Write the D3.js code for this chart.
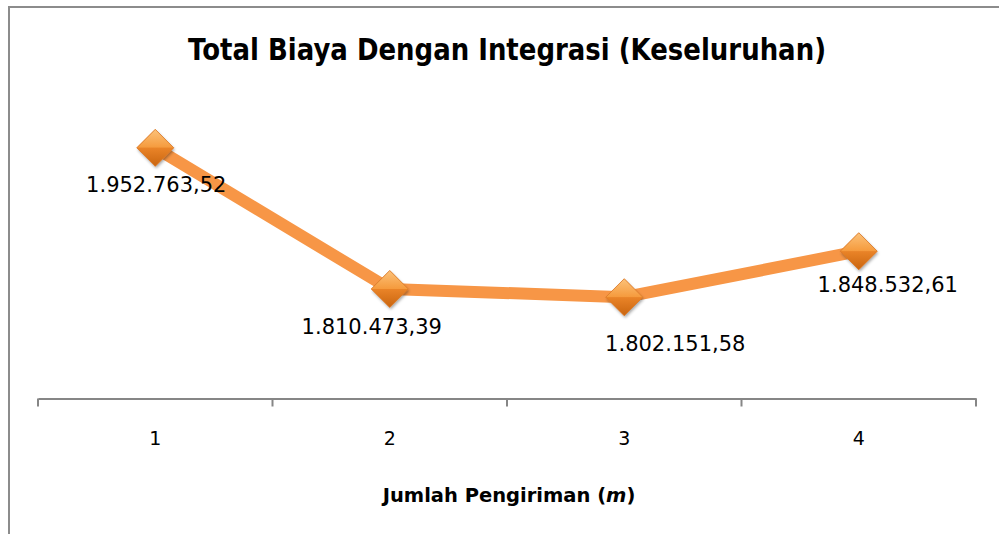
<!DOCTYPE html>
<html><head><meta charset="utf-8">
<script src="https://cdn.jsdelivr.net/npm/d3@7"></script>
<style>html,body{margin:0;padding:0;background:#fff;}svg{display:block;}</style>
</head><body>
<svg id="c" width="999" height="534"></svg>
<script>
const categories = ["1", "2", "3", "4"];
const values = [1952763.52, 1810473.39, 1802151.58, 1848532.61];
const valueLabels = ["1.952.763,52", "1.810.473,39", "1.802.151,58", "1.848.532,61"];
const yDomain = [1700000, 2000000];
const titleText = "Total Biaya Dengan Integrasi (Keseluruhan)";

// label placement (relative to point), kept separate from data
const labelDx = [1, -18, 51, 29];
const labelDy = [44, 45, 54, 41];

const svg = d3.select("#c");
const W = 999, H = 534;
const plot = {left: 38, right: 976, top: 101, bottom: 398.5};

// frame
svg.append("path")
  .attr("d", `M9,${H} L9,7 L${W},7`)
  .attr("fill", "none").attr("stroke", "#8c8c8c").attr("stroke-width", 2);

const x = d3.scaleBand().domain(categories).range([plot.left, plot.right]).padding(0);
const y = d3.scaleLinear().domain(yDomain).range([plot.bottom, plot.top]);

const font = "'DejaVu Sans', sans-serif";

// title
svg.append("text").attr("x", 507).attr("y", 60).attr("text-anchor", "middle")
  .attr("font-family", font).attr("font-weight", "bold").attr("font-size", 31)
  .attr("textLength", 638).attr("lengthAdjust", "spacingAndGlyphs")
  .attr("fill", "#000").text(titleText);

// x axis
const axis = d3.axisBottom(x).tickSize(0).tickPadding(33);
const gx = svg.append("g").attr("transform", `translate(0,${plot.bottom})`).call(axis);
gx.select(".domain").attr("stroke", "#868686").attr("stroke-width", 2);
gx.selectAll(".tick text").attr("font-family", font).attr("font-size", 19).attr("fill", "#000");
const bounds = categories.map(c => x(c)).concat([x(categories[categories.length - 1]) + x.bandwidth()]);
gx.selectAll("line.bt").data(bounds).enter().append("line").attr("class", "bt")
  .attr("x1", d => d).attr("x2", d => d).attr("y1", 0).attr("y2", 8)
  .attr("stroke", "#868686").attr("stroke-width", 2);

// x axis title
const xt = svg.append("text").attr("x", 509).attr("y", 502).attr("text-anchor", "middle")
  .attr("font-family", font).attr("font-weight", "bold").attr("font-size", 19.5).attr("fill", "#000");
xt.append("tspan").text("Jumlah Pengiriman (");
xt.append("tspan").attr("font-style", "italic").text("m");
xt.append("tspan").text(")");

// line
const cx = i => x(categories[i]) + x.bandwidth() / 2;
const line = d3.line().x((d, i) => cx(i)).y(d => y(d));
svg.append("path").datum(values).attr("d", line)
  .attr("fill", "none").attr("stroke", "#F79646").attr("stroke-width", 12)
  .attr("stroke-linejoin", "round");

// marker gradients
const defs = svg.append("defs");
const gTop = defs.append("linearGradient").attr("id", "gt").attr("x1", 0).attr("y1", 0).attr("x2", 0).attr("y2", 1);
gTop.append("stop").attr("offset", "0%").attr("stop-color", "#fcc27a");
gTop.append("stop").attr("offset", "100%").attr("stop-color", "#f59a3c");
const gBot = defs.append("linearGradient").attr("id", "gb").attr("x1", 0).attr("y1", 0).attr("x2", 0).attr("y2", 1);
gBot.append("stop").attr("offset", "0%").attr("stop-color", "#ea8428");
gBot.append("stop").attr("offset", "100%").attr("stop-color", "#c9650f");
const sh = defs.append("filter").attr("id", "sh").attr("x", "-50%").attr("y", "-50%").attr("width", "200%").attr("height", "200%");
sh.append("feDropShadow").attr("dx", 1).attr("dy", 2).attr("stdDeviation", 1.5).attr("flood-color", "#000").attr("flood-opacity", 0.35);

const r = 18.5;
const mk = svg.selectAll("g.mk").data(values).enter().append("g").attr("class", "mk")
  .attr("transform", (d, i) => `translate(${cx(i)},${y(d)})`);
mk.append("path").attr("d", `M0,${-r} L${r},0 L0,${r} L${-r},0 Z`).attr("fill", "#e88a30").attr("filter", "url(#sh)");
mk.append("path").attr("d", `M0,${-r} L${r},0 L${-r},0 Z`).attr("fill", "url(#gt)");
mk.append("path").attr("d", `M${-r},0 L${r},0 L0,${r} Z`).attr("fill", "url(#gb)");
mk.append("path").attr("d", `M0,${-r} L${r},0 L0,${r} L${-r},0 Z`).attr("fill", "none").attr("stroke", "#d9782a").attr("stroke-width", 0.8);

// data labels
svg.selectAll("text.vl").data(values).enter().append("text").attr("class", "vl")
  .attr("x", (d, i) => cx(i) + labelDx[i]).attr("y", (d, i) => y(d) + labelDy[i])
  .attr("text-anchor", "middle").attr("font-family", font).attr("font-size", 21).attr("fill", "#000")
  .text((d, i) => valueLabels[i]);
</script>
</body></html>
